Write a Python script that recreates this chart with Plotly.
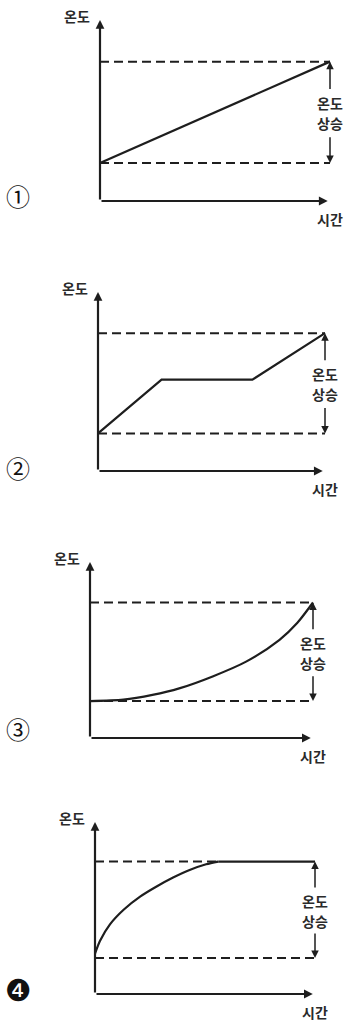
import plotly.graph_objects as go

W, H = 348, 1021

# ---- data (time in arbitrary units 0..10, temperature 0..100) ----
time1 = [0, 10]
temp1 = [21, 77]

time2 = [0, 2.8, 6.8, 10]
temp2 = [21, 51, 51, 77]

time3 = [0, 1.5, 2.8, 4.0, 5.5, 7.0, 8.5, 9.3, 10]
temp3 = [21, 21.8, 24.5, 28.2, 35, 43.4, 55.8, 65.5, 77]

time4_curve = [0, 0.23, 0.68, 1.3, 2.05, 2.8, 3.55, 4.3, 5.05, 5.6]
temp4_curve = [23.5, 31, 40.5, 49, 56.6, 62.5, 67.7, 72.1, 75.4, 77]
time4_flat = [5.6, 10]
temp4_flat = [77, 77]

t_low = [21, 21, 21, 21]
t_high = [77, 77, 77, 77]
dash_end_top = [10, 10, 10, 5.6]

labels_num = ["①", "②", "③", "❹"]
y_label = "온도"
x_label = "시간"
rise_label = ["온도", "상승"]

# ---- layout geometry (pixels) ----
geom = [
    dict(xa=100, xe=330, yb=201, yt=20, num_y=196),
    dict(xa=98, xe=325, yb=471, yt=292, num_y=467),
    dict(xa=90, xe=313, yb=738, yt=562, num_y=728),
    dict(xa=95, xe=315, yb=994, yt=822, num_y=990),
]

XR = (-0.5, 10.5)
YR = (-3, 103)

LC = "#1e1e1e"
TC = "#2a2a2a"
FONT = "Noto Sans CJK KR"

fig = go.Figure()
curves = [
    [(time1, temp1)],
    [(time2, temp2)],
    [(time3, temp3)],
    [(time4_curve, temp4_curve), (time4_flat, temp4_flat)],
]

annotations = []
layout_axes = {}

for i, g in enumerate(geom):
    n = "" if i == 0 else str(i + 1)
    xref, yref = "x" + n, "y" + n
    xa, xe = g["xa"], g["xe"]
    yb, yt = g["yb"], g["yt"]
    ppx = (xe - xa) / 10.0
    ppy = (yb - yt) / 100.0
    left = xa + XR[0] * ppx
    right = xa + XR[1] * ppx
    bottom = yb - YR[0] * ppy
    top = yb - YR[1] * ppy
    layout_axes["xaxis" + n] = dict(
        domain=[left / W, right / W], range=list(XR), visible=False,
        anchor=yref, fixedrange=True)
    layout_axes["yaxis" + n] = dict(
        domain=[1 - bottom / H, 1 - top / H], range=list(YR), visible=False,
        anchor=xref, fixedrange=True)

    # dashed reference lines
    fig.add_trace(go.Scatter(
        x=[0, dash_end_top[i]], y=[t_high[i], t_high[i]], mode="lines",
        line=dict(color=LC, width=2, dash="9px,5px"),
        xaxis=xref, yaxis=yref, showlegend=False, hoverinfo="skip"))
    fig.add_trace(go.Scatter(
        x=[0, 10], y=[t_low[i], t_low[i]], mode="lines",
        line=dict(color=LC, width=2, dash="9px,5px"),
        xaxis=xref, yaxis=yref, showlegend=False, hoverinfo="skip"))

    # curves
    for j, (tx, ty) in enumerate(curves[i]):
        shape = "spline" if (i >= 2 and j == 0) else "linear"
        fig.add_trace(go.Scatter(
            x=tx, y=ty, mode="lines",
            line=dict(color=LC, width=2.2, shape=shape, smoothing=0.8),
            xaxis=xref, yaxis=yref, showlegend=False, hoverinfo="skip"))

    # axes arrows
    annotations.append(dict(
        x=0, y=100, ax=0, ay=0, xref=xref, yref=yref, axref=xref, ayref=yref,
        showarrow=True, arrowhead=2, arrowsize=0.8, arrowwidth=2.2, arrowcolor=LC,
        text="", standoff=0))
    annotations.append(dict(
        x=9.9, y=0, ax=0, ay=0, xref=xref, yref=yref, axref=xref, ayref=yref,
        showarrow=True, arrowhead=2, arrowsize=0.8, arrowwidth=2.2, arrowcolor=LC,
        text="", standoff=0))

    # axis labels
    annotations.append(dict(
        x=0, y=100, xref=xref, yref=yref, text="<b>" + y_label + "</b>",
        showarrow=False, xanchor="right", yanchor="middle", xshift=-8, yshift=4,
        font=dict(family=FONT, size=14, color=TC)))
    annotations.append(dict(
        x=10, y=0, xref=xref, yref=yref, text="<b>" + x_label + "</b>",
        showarrow=False, xanchor="center", yanchor="middle", yshift=-18,
        font=dict(family=FONT, size=14, color=TC)))

    # temperature rise arrows
    mid = (t_low[i] + t_high[i]) / 2.0
    annotations.append(dict(
        x=10, y=t_high[i], ax=10, ay=mid + 12, xref=xref, yref=yref,
        axref=xref, ayref=yref, showarrow=True, arrowhead=2, arrowsize=1,
        arrowwidth=1.5, arrowcolor=LC, text="", standoff=0))
    annotations.append(dict(
        x=10, y=t_low[i], ax=10, ay=mid - 13, xref=xref, yref=yref,
        axref=xref, ayref=yref, showarrow=True, arrowhead=2, arrowsize=1,
        arrowwidth=1.5, arrowcolor=LC, text="", standoff=0))
    annotations.append(dict(
        x=10, y=mid, xref=xref, yref=yref, text="<b>" + rise_label[0] + "</b>",
        showarrow=False, xanchor="center", yanchor="middle", yshift=9,
        font=dict(family=FONT, size=14, color=TC)))
    annotations.append(dict(
        x=10, y=mid, xref=xref, yref=yref, text="<b>" + rise_label[1] + "</b>",
        showarrow=False, xanchor="center", yanchor="middle", yshift=-11,
        font=dict(family=FONT, size=14, color=TC)))

    # circled number
    annotations.append(dict(
        x=18 / W, y=1 - g["num_y"] / H, xref="paper", yref="paper",
        text=labels_num[i], showarrow=False, xanchor="center", yanchor="middle",
        font=dict(family="DejaVu Sans" if i == 3 else FONT,
                  size=30 if i == 3 else 24, color="#111")))

fig.update_layout(
    width=W, height=H, margin=dict(l=0, r=0, t=0, b=0),
    paper_bgcolor="white", plot_bgcolor="rgba(0,0,0,0)",
    annotations=annotations, **layout_axes)

fig.write_html(
    "out.html", config={"displayModeBar": False},
    post_script="document.body.style.margin='0';document.body.style.overflow='hidden';")
